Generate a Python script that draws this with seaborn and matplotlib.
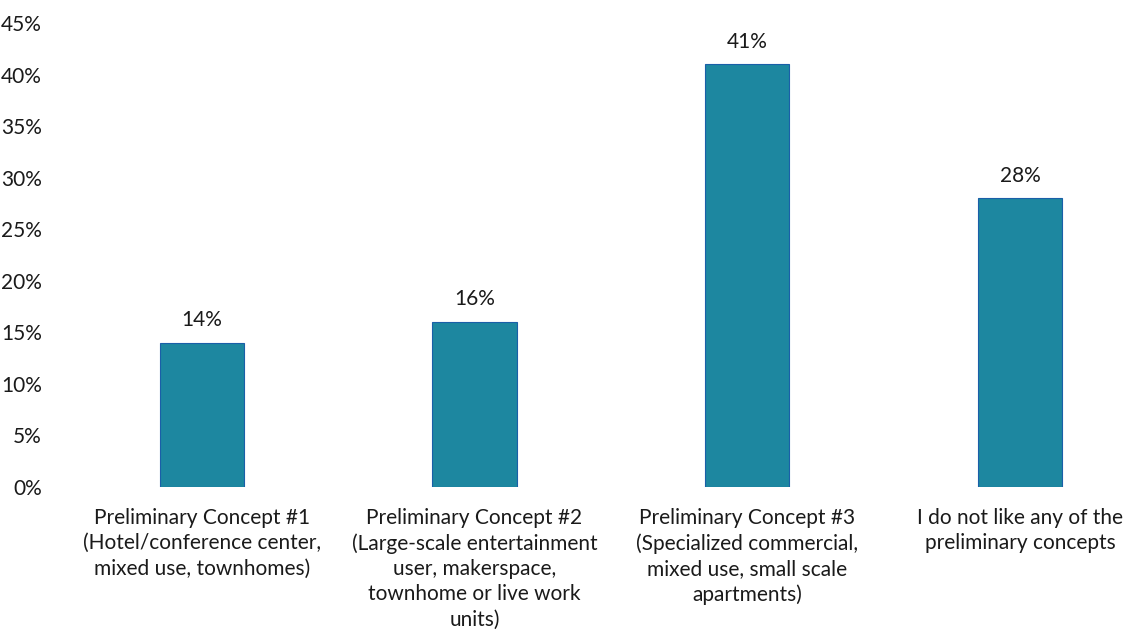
import pandas as pd
import seaborn as sns
import matplotlib.pyplot as plt
from matplotlib.ticker import PercentFormatter

# Values
categories = [
    "Preliminary Concept #1\n(Hotel/conference center,\nmixed use, townhomes)",
    "Preliminary Concept #2\n(Large-scale entertainment\nuser, makerspace,\ntownhome or live work\nunits)",
    "Preliminary Concept #3\n(Specialized commercial,\nmixed use, small scale\napartments)",
    "I do not like any of the\npreliminary concepts",
]
shares = [14, 16, 41, 28]
y_ticks = [0, 5, 10, 15, 20, 25, 30, 35, 40, 45]

BAR_COLOR = "#1d87a0"

sns.set_theme(style="white")
plt.rcParams['font.family'] = ['Lato', 'DejaVu Sans']

df = pd.DataFrame({"concept": categories, "share": shares})

fig = plt.figure(figsize=(11.29, 6.33), dpi=100)
ax = fig.add_axes([60 / 1129, 146 / 633, 1 - 60 / 1129, (487 - 23) / 633])

sns.barplot(data=df, x="concept", y="share", color=BAR_COLOR, width=0.31,
            saturation=1, edgecolor="#1a5fa8", linewidth=0.8, ax=ax)

for patch, val in zip(ax.patches, shares):
    ax.text(patch.get_x() + patch.get_width() / 2, val + 2.2, f"{val}%",
            ha="center", va="center", fontsize=15, color="#1a1a1a")

ax.set_ylim(0, 45)
ax.set_xlim(-0.52, 3.4)
ax.set_yticks(y_ticks)
ax.yaxis.set_major_formatter(PercentFormatter(decimals=0))
ax.set_xlabel("")
ax.set_ylabel("")
ax.tick_params(axis="y", length=0, pad=13, labelsize=15, labelcolor="#1a1a1a")
ax.tick_params(axis="x", length=0, pad=15, labelsize=15, labelcolor="#1a1a1a")
for lbl in ax.get_xticklabels():
    lbl.set_linespacing(1.33)
sns.despine(ax=ax, left=True, bottom=True)

fig.savefig("out.png", dpi=100)
